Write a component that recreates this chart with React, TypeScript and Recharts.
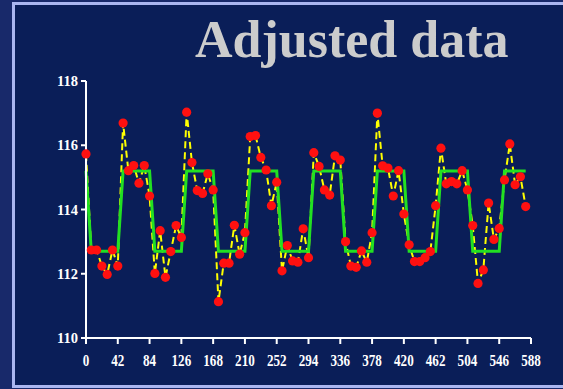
import { ComposedChart, Line, XAxis, YAxis } from "recharts";

// sample positions along the x axis
const xs = [
  0, 7, 14, 21, 28, 35, 42, 49, 56, 63, 70, 77, 84, 91, 98, 105, 112, 119, 126, 133, 140,
  147, 154, 161, 168, 175, 182, 189, 196, 203, 210, 217, 224, 231, 238, 245, 252, 259, 266,
  273, 280, 287, 294, 301, 308, 315, 322, 329, 336, 343, 350, 357, 364, 371, 378, 385, 392,
  399, 406, 413, 420, 427, 434, 441, 448, 455, 462, 469, 476, 483, 490, 497, 504, 511, 518,
  525, 532, 539, 546, 553, 560, 567, 574, 581,
];

// adjusted observations (red dots)
const observed = [
  115.73, 112.74, 112.74, 112.24, 111.98, 112.74, 112.24, 116.69, 115.21, 115.37, 114.82,
  115.37, 114.42, 112.01, 113.34, 111.89, 112.69, 113.5, 113.13, 117.03, 115.46, 114.59,
  114.5, 115.11, 114.61, 111.13, 112.33, 112.33, 113.51, 112.61, 113.28, 116.27, 116.3,
  115.62, 115.23, 114.12, 114.85, 112.09, 112.88, 112.4, 112.36, 113.4, 112.5, 115.77,
  115.34, 114.61, 114.45, 115.67, 115.54, 113.0, 112.24, 112.2, 112.71, 112.36, 113.28, 117.0,
  115.36, 115.29, 114.42, 115.21, 113.86, 112.9, 112.38, 112.38, 112.5, 112.69, 114.12,
  115.91, 114.8, 114.87, 114.8, 115.21, 114.61, 113.5, 111.7, 112.12, 114.2, 113.07, 113.41,
  114.92, 116.04, 114.77, 115.02, 114.09,
];

// fitted two-level signal (green)
const fitted = [
  115.2, 112.7, 112.7, 112.7, 112.7, 112.7, 112.7, 115.2, 115.2, 115.2, 115.2, 115.2, 115.2,
  112.7, 112.7, 112.7, 112.7, 112.7, 112.7, 115.2, 115.2, 115.2, 115.2, 115.2, 115.2,
  112.7, 112.7, 112.7, 112.7, 112.7, 112.7, 115.2, 115.2, 115.2, 115.2, 115.2, 115.2,
  112.7, 112.7, 112.7, 112.7, 112.7, 112.7, 115.2, 115.2, 115.2, 115.2, 115.2, 115.2,
  112.7, 112.7, 112.7, 112.7, 112.7, 112.7, 115.2, 115.2, 115.2, 115.2, 115.2, 115.2,
  112.7, 112.7, 112.7, 112.7, 112.7, 112.7, 115.2, 115.2, 115.2, 115.2, 115.2, 115.2,
  112.7, 112.7, 112.7, 112.7, 112.7, 112.7, 115.2, 115.2, 115.2, 115.2, 115.2,
];

const xTicks = [0, 42, 84, 126, 168, 210, 252, 294, 336, 378, 420, 462, 504, 546, 588];
const yTicks = [110, 112, 114, 116, 118];

const data = xs.map((x, i) => ({ x, obs: observed[i], fit: fitted[i] }));

const serif = "'Liberation Serif', 'Times New Roman', serif";

const XTick = ({ x, y, payload }: any) => (
  <text
    transform={`translate(${x},${y + 20}) scale(0.75,1)`}
    textAnchor="middle"
    fill="#ffffff"
    fontFamily={serif}
    fontSize={17.5}
    fontWeight="bold"
  >
    {payload.value}
  </text>
);

const YTick = ({ x, y, payload }: any) => (
  <text
    x={x}
    y={y + 5}
    textAnchor="end"
    fill="#ffffff"
    fontFamily={serif}
    fontSize={14.5}
    fontWeight="bold"
  >
    {payload.value}
  </text>
);

const RedDot = ({ cx, cy }: any) => <circle cx={cx} cy={cy} r={4.6} fill="#ff1010" />;

export default function App() {
  return (
    <div
      style={{
        position: "fixed",
        left: 0,
        top: 0,
        width: 563,
        height: 389,
        background: "#18296a",
        overflow: "hidden",
      }}
    >
      <div
        style={{
          position: "absolute",
          left: 12,
          top: 2,
          width: 580,
          height: 386,
          boxSizing: "border-box",
          border: "3px solid #aab6f0",
          background: "#0a1e58",
        }}
      />
      <svg style={{ position: "absolute", left: 0, top: 0 }} width={563} height={389}>
        <text x={195} y={57} fill="#cccccc" fontFamily={serif} fontSize={52} fontWeight="bold">
          Adjusted data
        </text>
      </svg>
      <div style={{ position: "absolute", left: 0, top: 0 }}>
        <ComposedChart
          width={563}
          height={389}
          data={data}
          margin={{ top: 81, right: 32, left: 0, bottom: 21 }}
        >
          <XAxis
            dataKey="x"
            type="number"
            domain={[0, 588]}
            ticks={xTicks}
            interval={0}
            height={30}
            stroke="#ffffff"
            strokeWidth={2}
            tickSize={6}
            tick={<XTick />}
          />
          <YAxis
            type="number"
            domain={[110, 118]}
            ticks={yTicks}
            width={86}
            stroke="#ffffff"
            strokeWidth={2}
            tickSize={5}
            tickMargin={3}
            tick={<YTick />}
          />
          <Line
            dataKey="obs"
            stroke="#ffff00"
            strokeWidth={2}
            strokeDasharray="7 4"
            dot={false}
            activeDot={false}
            isAnimationActive={false}
          />
          <Line
            dataKey="fit"
            stroke="#22e022"
            strokeWidth={3}
            dot={false}
            activeDot={false}
            isAnimationActive={false}
          />
          <Line
            dataKey="obs"
            stroke="none"
            dot={<RedDot />}
            activeDot={false}
            isAnimationActive={false}
          />
        </ComposedChart>
      </div>
    </div>
  );
}
